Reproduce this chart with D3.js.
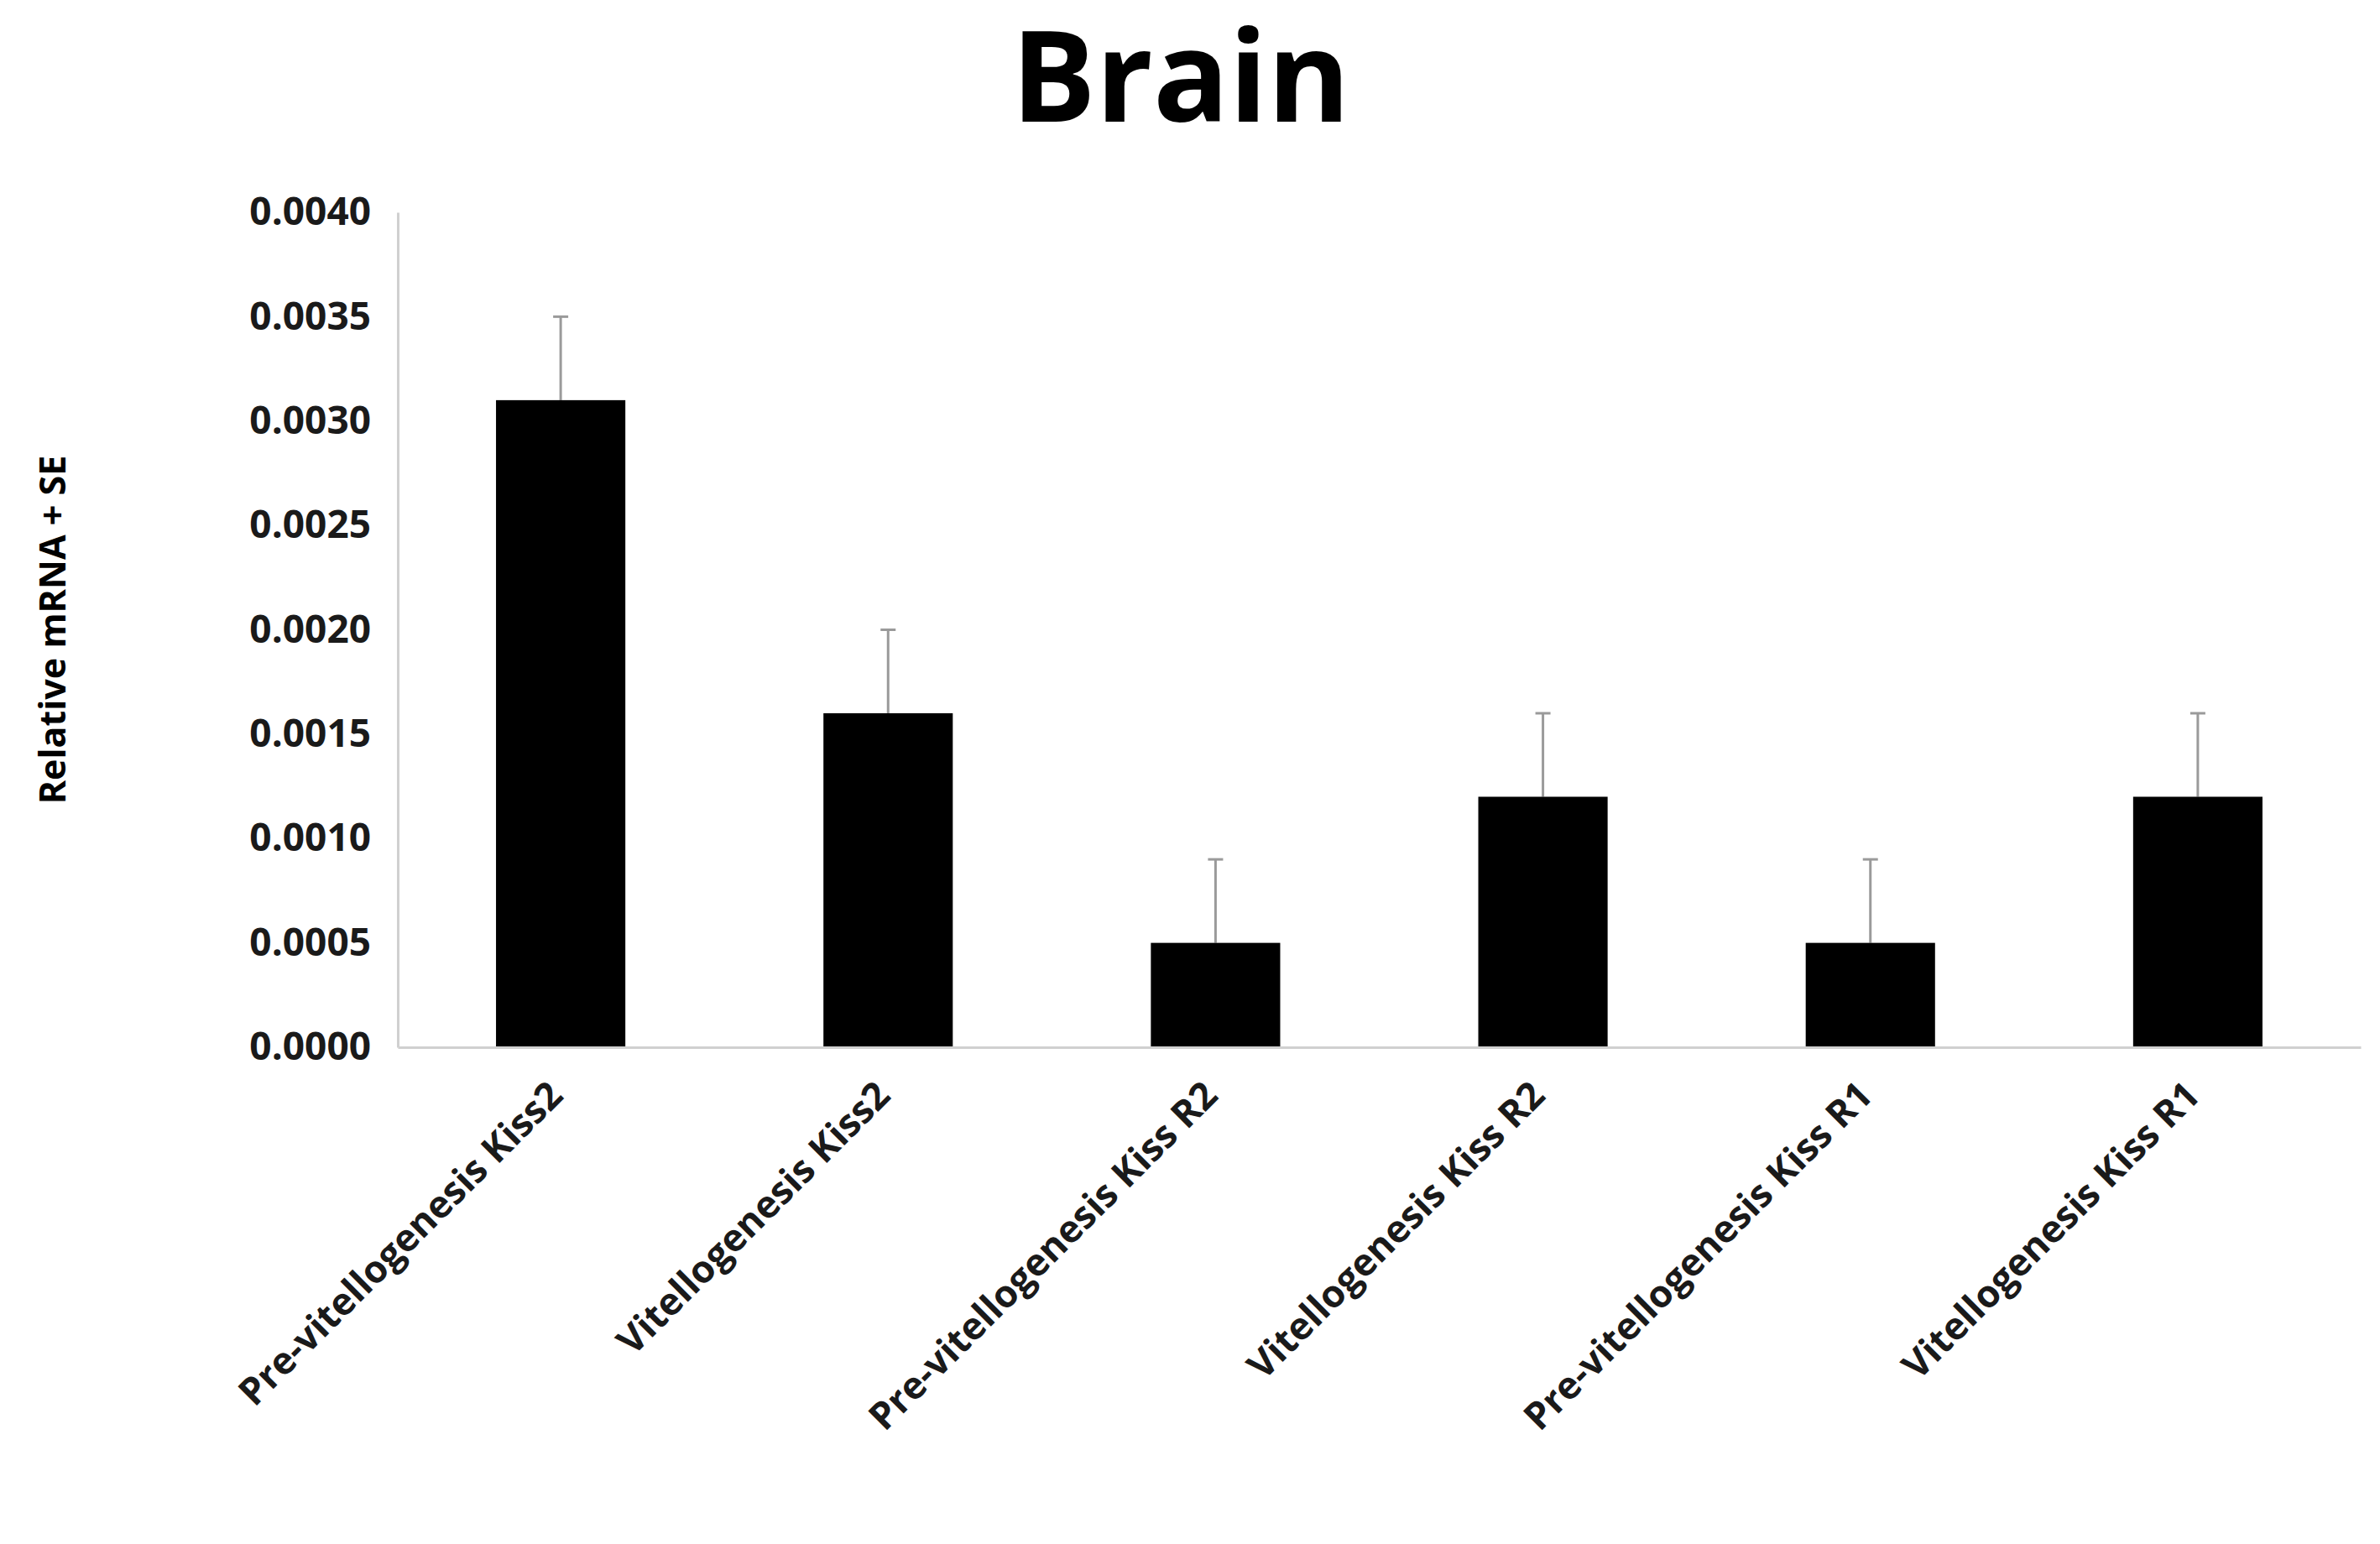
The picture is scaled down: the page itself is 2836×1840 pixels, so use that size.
<!DOCTYPE html>
<html>
<head>
<meta charset="utf-8">
<script src="https://cdn.jsdelivr.net/npm/d3@7"></script>
<style>
  body { margin: 0; background: #fff; }
  text { font-family: "Open Sans", sans-serif; font-weight: bold; }
</style>
</head>
<body>
<script>
const categories = ['Pre-vitellogenesis Kiss2', 'Vitellogenesis Kiss2', 'Pre-vitellogenesis Kiss R2',
  'Vitellogenesis  Kiss R2', 'Pre-vitellogenesis Kiss R1', 'Vitellogenesis Kiss R1'];
const values = [0.0031, 0.0016, 0.0005, 0.0012, 0.0005, 0.0012];
const errors = [0.0004, 0.0004, 0.0004, 0.0004, 0.0004, 0.0004];
const yTicks = [0, 0.0005, 0.001, 0.0015, 0.002, 0.0025, 0.003, 0.0035, 0.004];

const width = 2836, height = 1840;
const margin = { top: 253, right: 23, bottom: 592, left: 474 };

const svg = d3.select('body').append('svg')
  .attr('width', width)
  .attr('height', height);

const x = d3.scaleBand()
  .domain(categories)
  .range([margin.left, width - margin.right])
  .paddingInner(0.605)
  .paddingOuter(0.3);

const y = d3.scaleLinear()
  .domain([0, 0.004])
  .range([height - margin.bottom, margin.top]);

// title
svg.append('text')
  .attr('x', 1407)
  .attr('y', 145)
  .attr('text-anchor', 'middle')
  .style('font-size', '150px')
  .text('Brain');

// y axis
const yAxis = svg.append('g')
  .attr('transform', `translate(${margin.left},0)`)
  .call(d3.axisLeft(y).tickValues(yTicks).tickFormat(d3.format('.4f')).tickSize(0).tickPadding(32));
yAxis.select('.domain').attr('stroke', '#d0d0d0').attr('stroke-width', 3);
yAxis.selectAll('text').style('font-size', '46px').attr('fill', '#1a1a1a');

// y label
svg.append('text')
  .attr('transform', `translate(78,${(margin.top + height - margin.bottom) / 2}) rotate(-90)`)
  .attr('text-anchor', 'middle')
  .style('font-size', '43px')
  .text('Relative  mRNA + SE');

// error bars
const err = svg.append('g').attr('stroke', '#9a9a9a').attr('stroke-width', 3);
categories.forEach(function(c, i) {
  const cx = x(c) + x.bandwidth() / 2;
  err.append('line')
    .attr('x1', cx).attr('x2', cx)
    .attr('y1', y(values[i])).attr('y2', y(values[i] + errors[i]));
  err.append('line')
    .attr('x1', cx - 9).attr('x2', cx + 9)
    .attr('y1', y(values[i] + errors[i])).attr('y2', y(values[i] + errors[i]));
});

// bars
svg.append('g')
  .selectAll('rect')
  .data(values)
  .join('rect')
    .attr('x', (d, i) => x(categories[i]))
    .attr('y', d => y(d))
    .attr('width', x.bandwidth())
    .attr('height', d => y(0) - y(d))
    .attr('fill', '#000');

// x axis
const xAxis = svg.append('g')
  .attr('transform', `translate(0,${height - margin.bottom})`)
  .call(d3.axisBottom(x).tickSize(0).tickPadding(0));
xAxis.select('.domain').attr('stroke', '#d0d0d0').attr('stroke-width', 3);
xAxis.selectAll('text')
  .style('font-size', '45px')
  .attr('fill', '#1a1a1a')
  .attr('text-anchor', 'end')
  .attr('dy', 0)
  .attr('transform', 'translate(5,60) rotate(-45)');
</script>
</body>
</html>
